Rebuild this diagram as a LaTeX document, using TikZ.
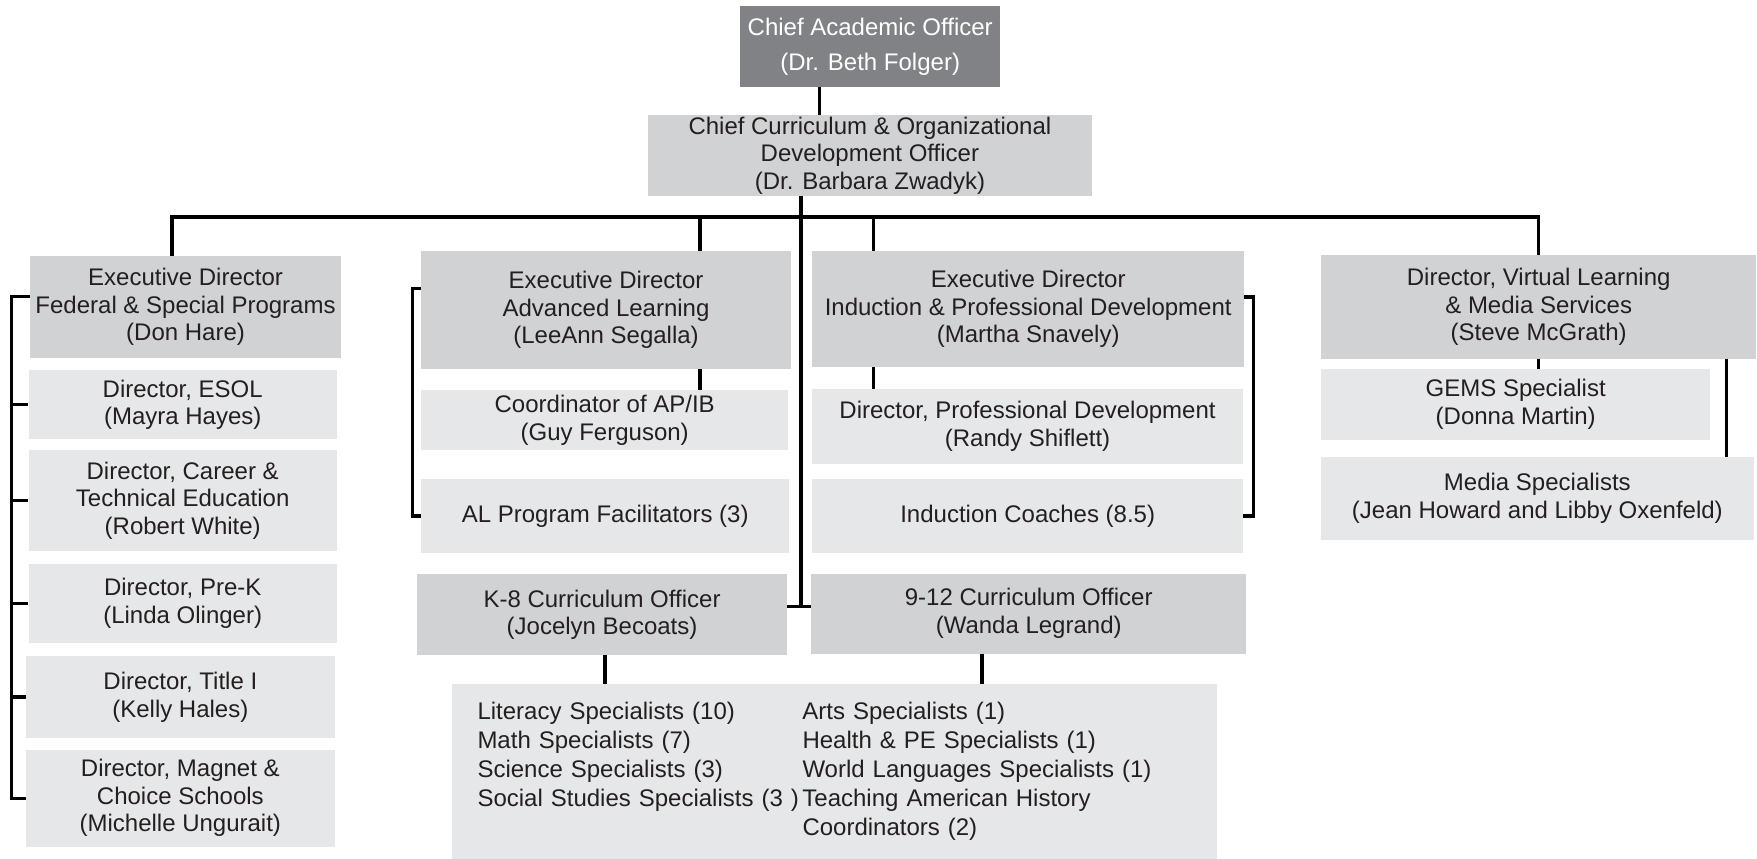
\documentclass[tikz,border=0pt]{standalone}
\usepackage{fontspec}
\setmainfont{Liberation Sans}
\usepackage{xcolor}
\usepackage{tikz}
\usetikzlibrary{positioning,calc}
\definecolor{boxdark}{HTML}{808285}
\definecolor{boxmid}{HTML}{D1D2D4}
\definecolor{boxlite}{HTML}{E6E7E8}
\definecolor{inkgray}{HTML}{231F20}

\begin{document}
\begin{tikzpicture}[x=1pt, y=-1pt,
    orgbox/.style={anchor=north west, inner sep=0pt, align=center, text=inkgray,
        font=\fontsize{24}{27.5}\selectfont},
    darkbox/.style={orgbox, fill=boxdark, text=white},
    midbox/.style={orgbox, fill=boxmid},
    litebox/.style={orgbox, fill=boxlite},
    conn/.style={line width=3.2pt, black}]
    \useasboundingbox (0,0) rectangle (1757,859);

    % top of the chart
    \node[darkbox, minimum width=260pt, minimum height=80.7pt, font=\fontsize{24}{35}\selectfont] (cao) at (740,6) {Chief Academic Officer\\(Dr. Beth Folger)};
    \node[midbox, minimum width=444pt, minimum height=81pt] (ccodo) at (647.7,115) {Chief Curriculum \& Organizational\\Development Officer\\(Dr. Barbara Zwadyk)};

    % federal & special programs
    \node[midbox, minimum width=310.7pt, minimum height=101.3pt] (fed) at (30,256) {Executive Director\\Federal \& Special Programs\\(Don Hare)};
    \node[litebox, minimum width=308.4pt, minimum height=69pt] (esol) at (28.3,370) {Director, ESOL\\(Mayra Hayes)};
    \node[litebox, minimum width=308.4pt, minimum height=100.7pt] (career) at (28.3,450) {Director, Career \&\\Technical Education\\(Robert White)};
    \node[litebox, minimum width=308.4pt, minimum height=79.4pt] (prek) at (28.3,563.3) {Director, Pre-K\\(Linda Olinger)};
    \node[litebox, minimum width=308.3pt, minimum height=81.7pt] (title) at (26,656) {Director, Title I\\(Kelly Hales)};
    \node[litebox, minimum width=308.3pt, minimum height=97.4pt] (magnet) at (26,749.3) {Director, Magnet \&\\Choice Schools\\(Michelle Ungurait)};

    % advanced learning
    \node[midbox, minimum width=369.7pt, minimum height=117.7pt] (adv) at (421,251) {Executive Director\\Advanced Learning\\(LeeAnn Segalla)};
    \node[litebox, minimum width=367pt, minimum height=60pt] (apib) at (421,390) {Coordinator of AP/IB\\(Guy Ferguson)};
    \node[litebox, minimum width=368pt, minimum height=73.7pt] (alfac) at (421,479) {AL Program Facilitators (3)};
    \node[midbox, minimum width=369.7pt, minimum height=81pt] (k8) at (417,574) {K-8 Curriculum Officer\\(Jocelyn Becoats)};

    % induction & professional development
    \node[midbox, minimum width=432pt, minimum height=115.7pt] (ind) at (812,251) {Executive Director\\Induction \& Professional Development\\(Martha Snavely)};
    \node[litebox, minimum width=430.7pt, minimum height=74.3pt] (pd) at (812,389) {Director, Professional Development\\(Randy Shiflett)};
    \node[litebox, minimum width=431pt, minimum height=73.7pt] (coach) at (812,479) {Induction Coaches (8.5)};
    \node[midbox, minimum width=435pt, minimum height=80pt] (hs) at (811,573.3) {9-12 Curriculum Officer\\(Wanda Legrand)};

    % virtual learning & media
    \node[midbox, minimum width=435pt, minimum height=103.3pt] (virt) at (1321,255) {Director, Virtual Learning\\\& Media Services\\(Steve McGrath)};
    \node[litebox, minimum width=389pt, minimum height=70.3pt] (gems) at (1321,369) {GEMS Specialist\\(Donna Martin)};
    \node[litebox, minimum width=432.3pt, minimum height=82.6pt] (media) at (1321,456.7) {Media Specialists\\(Jean Howard and Libby Oxenfeld)};

    % specialists
    \node[litebox, align=left, minimum height=175pt, inner xsep=25.6pt, inner ysep=14pt, text width=713.8pt, font=\fontsize{24}{29}\selectfont] (spec) at (451.7,684) {%
        \begin{tabular}{@{}p{325pt}@{}l@{}}
        Literacy Specialists (10) & Arts Specialists (1)\\
        Math Specialists (7) & Health \& PE Specialists (1)\\
        Science Specialists (3) & World Languages Specialists (1)\\
        Social Studies Specialists (3 ) & Teaching American History\\
        & Coordinators (2)
        \end{tabular}};

    % connectors
    \coordinate (bar) at (0,217);
    \coordinate (jn) at (801,606.7);
    \coordinate (lb) at (11.7,0);
    \coordinate (mb) at (412.7,0);
    \coordinate (rb) at (1253.3,0);
    \coordinate (t0) at ([xshift=-50.7pt]cao.south);
    \coordinate (t1) at ([xshift=94pt]adv.north);
    \coordinate (t2) at ([xshift=-154.7pt]ind.north);
    \coordinate (t3) at ([xshift=94pt]adv.south);
    \coordinate (t4) at ([xshift=-154.7pt]ind.south);
    \coordinate (t5) at ([xshift=188pt]virt.south);
    \coordinate (t6) at ([xshift=3pt]k8.south);
    \coordinate (t7) at ([xshift=-46.8pt]hs.south);
    \coordinate (t8) at ([xshift=-13.6pt]fed.north);

    \draw[conn] (t0) -- (t0 |- ccodo.north);
    \draw[conn] (t8) |- (bar -| virt.north) -- (virt.north);
    \draw[conn] (t1) -- (t1 |- bar);
    \draw[conn] (t2) -- (t2 |- bar);
    \draw[conn] (ccodo.south -| jn) -- (jn);
    \draw[conn] (k8.east |- jn) -- (hs.west |- jn);

    \draw[conn] (t3) -- (t3 |- apib.north);
    \draw[conn] (t4) -- (t4 |- pd.north);
    \draw[conn] (virt.south) -- (virt.south |- gems.north);
    \draw[conn] (t5) -- (t5 |- media.north);
    \draw[conn] (t6) -- (t6 |- spec.north);
    \draw[conn] (t7) -- (t7 |- spec.north);

    % brackets
    \draw[conn] ([yshift=10.7pt]fed.west) -| (lb |- magnet.west) -- (magnet.west);
    \foreach \b in {esol,career,prek,title}
        \draw[conn] (lb |- \b.west) -- (\b.west);
    \draw[conn] ([yshift=21.9pt]adv.west) -| (mb |- alfac.west) -- (alfac.west);
    \draw[conn] ([yshift=12pt]ind.east) -| (rb |- coach.east) -- (coach.east);
\end{tikzpicture}
\end{document}
